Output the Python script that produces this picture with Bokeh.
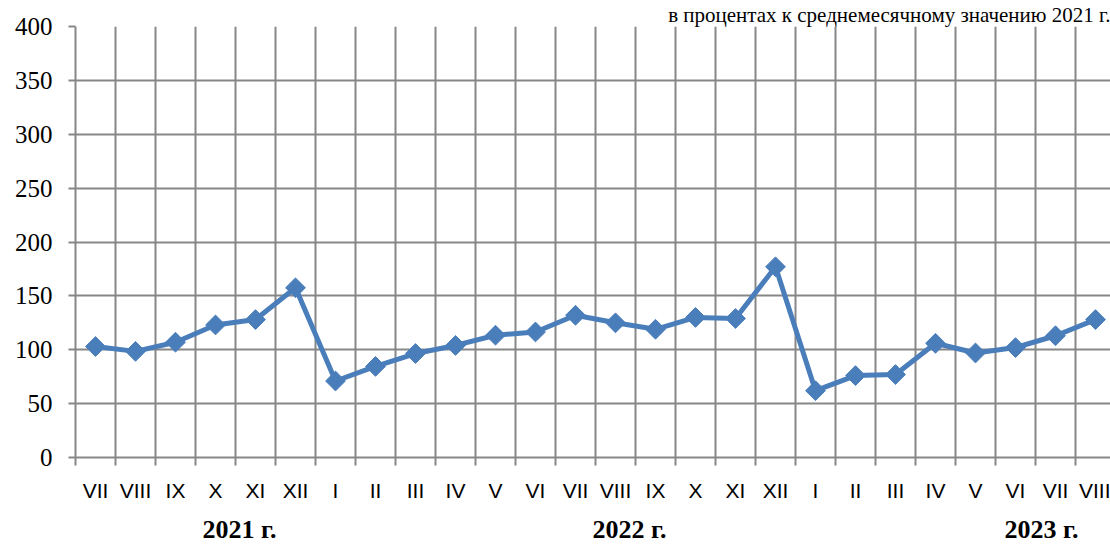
from bokeh.plotting import figure
from bokeh.models import FixedTicker, Range1d, LinearAxis
from bokeh.embed import file_html
from bokeh.resources import INLINE
import math

# ---- data ----
months = ["VII", "VIII", "IX", "X", "XI", "XII",
          "I", "II", "III", "IV", "V", "VI", "VII", "VIII", "IX", "X", "XI", "XII",
          "I", "II", "III", "IV", "V", "VI", "VII", "VIII"]
values = [103, 98.5, 107, 123, 128, 157.5,
          71, 84.5, 96.5, 104, 113.5, 116.5, 132, 125, 119, 130, 129, 177,
          62, 76, 77, 106, 97, 102, 113, 128]
years = ["2021 г.", "2022 г.", "2023 г."]
year_centers = [3.6, 13.35, 23.65]
y_ticks = [0, 50, 100, 150, 200, 250, 300, 350, 400]
subtitle = "в процентах к среднемесячному значению 2021 г."

x = list(range(len(months)))
boundaries = [i - 0.5 for i in range(len(months))]

W, H = 1110, 546
LEFT, TOP, BOTTOM = 75, 26, 87
frame_w = W - LEFT
cat_px = 40.0

grid_col = "#878787"
blue = "#4A7EBB"

p = figure(width=W, height=H, output_backend="svg", toolbar_location=None,
           x_range=Range1d(-0.5, -0.5 + frame_w / cat_px), y_range=Range1d(0, 400),
           min_border_left=LEFT, min_border_right=0, min_border_top=TOP,
           min_border_bottom=BOTTOM)
p.outline_line_color = None
p.background_fill_color = "white"
p.border_fill_color = "white"

# subtitle (top right)
p.title.text = subtitle
p.title.align = "right"
p.title.standoff = 0
p.title.text_font = "Liberation Serif"
p.title.text_font_size = "21px"
p.title.text_font_style = "normal"
p.title.text_color = "black"

# x axis: labels at category centers, tick marks at boundaries
p.xaxis.ticker = FixedTicker(ticks=x, minor_ticks=boundaries)
p.xaxis.major_label_overrides = {i: m for i, m in enumerate(months)}
p.xaxis.major_tick_out = 0
p.xaxis.major_tick_in = 0
p.xaxis.minor_tick_out = 8
p.xaxis.minor_tick_in = 0
p.xaxis.minor_tick_line_color = grid_col
p.xaxis.minor_tick_line_width = 2
p.xaxis.axis_line_color = grid_col
p.xaxis.axis_line_width = 2
p.xaxis.major_label_standoff = 13
p.xaxis.major_label_text_font = "Liberation Sans"
p.xaxis.major_label_text_font_size = "21px"
p.xaxis.major_label_text_color = "black"

# year axis (second row of labels)
year_axis = LinearAxis(ticker=FixedTicker(ticks=year_centers, minor_ticks=[]),
                       major_label_overrides={c: y for c, y in zip(year_centers, years)},
                       axis_line_color=None, major_tick_line_color=None,
                       minor_tick_line_color=None, major_tick_out=0, major_tick_in=0,
                       major_label_standoff=10,
                       major_label_text_font="Liberation Serif",
                       major_label_text_font_size="26px",
                       major_label_text_font_style="bold",
                       major_label_text_color="black")
p.add_layout(year_axis, "below")

# y axis
p.yaxis.ticker = FixedTicker(ticks=y_ticks)
p.yaxis.minor_tick_line_color = None
p.yaxis.major_tick_out = 7
p.yaxis.major_tick_in = 0
p.yaxis.major_tick_line_color = grid_col
p.yaxis.major_tick_line_width = 2
p.yaxis.axis_line_color = grid_col
p.yaxis.axis_line_width = 2
p.yaxis.major_label_standoff = 16
p.yaxis.major_label_text_font = "Liberation Serif"
p.yaxis.major_label_text_font_size = "25px"
p.yaxis.major_label_text_color = "black"

# grids
p.xgrid.ticker = FixedTicker(ticks=boundaries)
p.xgrid.grid_line_color = grid_col
p.xgrid.grid_line_width = 2
p.ygrid.ticker = FixedTicker(ticks=y_ticks)
p.ygrid.grid_line_color = grid_col
p.ygrid.grid_line_width = 2

# series
p.line(x, values, line_color=blue, line_width=5)
p.scatter(x, values, marker="square", size=14, angle=math.pi / 4,
          fill_color=blue, line_color=blue)

open("out.html", "w").write(file_html(p, INLINE))
